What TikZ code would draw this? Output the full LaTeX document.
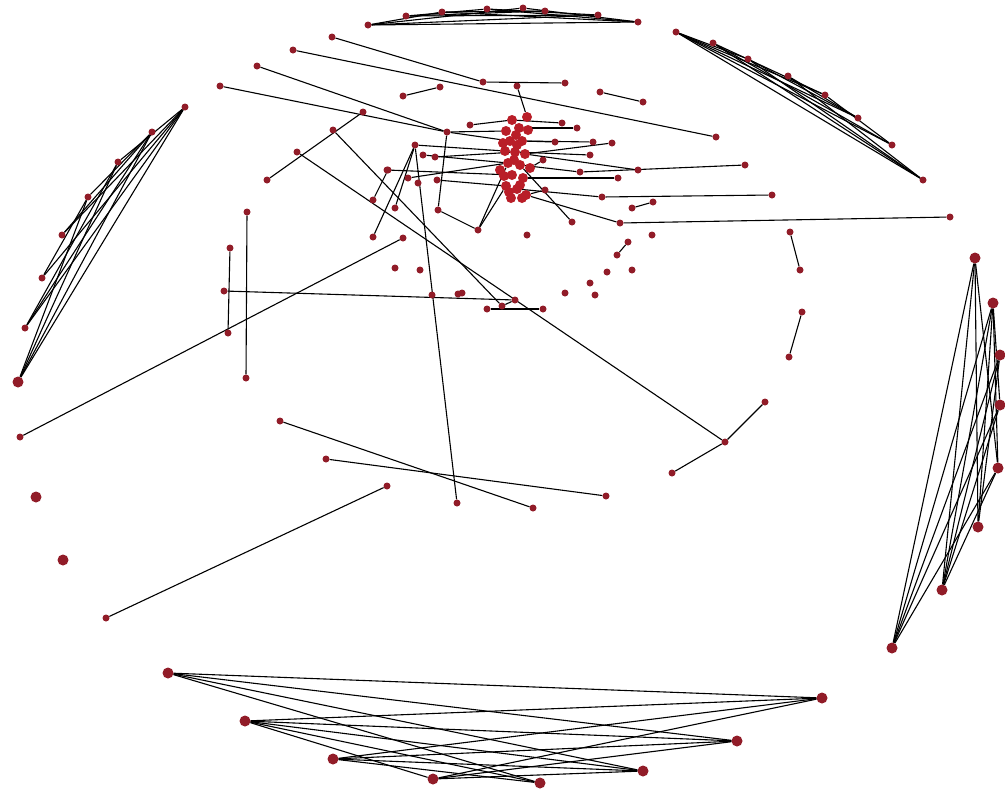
\documentclass[tikz,border=0pt]{standalone}
\definecolor{dotred}{RGB}{145,28,40}
\definecolor{corered}{RGB}{185,30,40}
\pgfdeclarelayer{bg}
\pgfsetlayers{bg,main}
\tikzset{
  dot/.style={circle,fill=dotred,draw=none,inner sep=0pt,minimum size=7pt},
  bigdot/.style={circle,fill=dotred,draw=none,inner sep=0pt,minimum size=11pt},
  coredot/.style={circle,fill=corered,draw=none,inner sep=0pt,minimum size=10pt},
  edge/.style={draw=black,line width=1.1pt}
}
\begin{document}
\begin{tikzpicture}[x=1pt,y=-1pt]
\useasboundingbox (0,0) rectangle (1005,793);
% small nodes
\foreach \n/\x/\y in {
 T1/368/25,T2/406/16,T3/442/12,T4/487/9,T5/523/8,T6/545/11,T7/598/15,T8/638/22,
 R1/676/32,R2/713/43,R3/748/59,R4/788/76,R5/825/95,R6/858/118,R7/892/145,R8/923/180,
 L1/185/107,L2/152/132,L3/118/162,L4/88/197,L5/62/235,L6/42/278,L7/25/328,
 U1/332/37,U2/293/50,U3/257/66,U4/220/86,U5/363/112,U6/403/96,U7/440/87,U8/483/82,
 U9/565/83,U10/517/86,U11/600/92,U12/643/102,U13/716/137,U14/745/165,U15/772/195,U16/950/217,
 P1/267/180,P2/297/152,P3/333/130,
 V1/247/212,V2/230/248,V3/224/291,V4/228/333,V5/246/378,
 A1/20/437,A2/403/238,A5/106/618,A6/387/486,A7/280/421,A8/533/508,A9/326/459,A10/606/496,A11/457/503,
 F1/790/232,F2/800/270,F3/802/312,F4/789/357,F5/765/402,F6/725/442,F7/672/473,
 G1/487/309,G2/502/306,G3/515/300,G4/543/309,G5/565/293,G6/458/294,G7/462/293,G8/432/295,
 G9/420/270,G10/395/268,G11/373/237,G12/373/200,G13/388/170,G14/590/283,G15/595/295,
 G16/607/272,G17/632/270,G18/617/255,G19/628/242,G20/652/235,G21/527/235,
 D1/447/132,D2/415/145,D3/423/155,D4/435/157,D5/387/170,D6/408/178,D7/418/183,D8/437/180,
 D9/395/208,D10/438/210,D11/478/230,D12/562/123,D13/555/142,D14/577/128,D15/593/142,
 D16/612/143,D17/590/155,D18/580/172,D19/618/178,D20/638/170,D21/602/197,D22/572/222,
 D23/620/223,D24/653/202,D25/632/208,D26/543/160,D27/470/125,D28/545/190}
 \node[dot] (\n) at (\x,\y) {};
% larger nodes
\foreach \n/\x/\y in {
 L8/18/382,A3/36/497,A4/63/560,
 E1/975/258,E2/993/303,E3/1000/355,E4/1000/405,E5/998/468,E6/978/527,E7/942/590,E8/892/648,
 B1/168/673,B2/245/721,B3/333/759,B4/433/779,B5/540/783,B6/643/771,B7/737/741,B8/822/698}
 \node[bigdot] (\n) at (\x,\y) {};
% dense core
\foreach \n/\x/\y in {
 C1/512/120,C2/506/131,C3/519/128,C4/510/141,C5/522/141,C6/505/151,C7/515/152,C8/525/154,
 C9/508/163,C10/520/165,C11/512/175,C12/523/178,C13/506/186,C14/517/189,C15/526/195,
 C16/511/198,C17/527/117,C18/500/170,C19/530/168,C20/514/160,C21/504/176,C22/520/185,
 C23/509/192,C24/528/130,C25/516/135,C26/503/143,C27/517/145,C28/522/198}
 \node[coredot] (\n) at (\x,\y) {};
\begin{pgfonlayer}{bg}
\fill[white] (0,0) rectangle (1005,793);
\foreach \a/\b in {
 T1/T8,T1/T7,T1/T5,T2/T7,T2/T6,T3/T8,T4/T7,T1/T3,T5/T8,T2/T4,T3/T6,T4/T8,
 R1/R8,R1/R7,R1/R6,R2/R8,R2/R7,R3/R8,R3/R6,R4/R8,R2/R5,R1/R3,R5/R7,R4/R6,R1/R5,
 L1/L8,L1/L7,L1/L6,L1/L5,L2/L8,L2/L7,L3/L8,L3/L7,L4/L8,L1/L3,L2/L5,L4/L6,L2/L4,
 E1/E8,E1/E7,E1/E6,E2/E8,E2/E7,E2/E6,E3/E8,E3/E7,E4/E8,E5/E8,E1/E5,E2/E5,E3/E6,E4/E7,E5/E7,E2/E4,
 B1/B8,B1/B7,B1/B6,B1/B5,B2/B8,B2/B7,B2/B6,B3/B8,B3/B7,B3/B6,B4/B8,B4/B7,B2/B5,B3/B5,B2/B4,B4/B6,
 U1/U8,U8/U9,U2/U13,U3/D1,U4/D1,U6/U7,U10/C17,U11/U12,P1/U5,P2/F6,P3/G2,
 D18/U14,C10/D18,D21/U15,C14/D21,D23/U16,D23/C15,
 A11/D2,V1/V5,V2/V4,V3/G3,A1/A2,A5/A6,A7/A8,A9/A10,
 F1/F2,F3/F4,F5/F6,F6/F7,G1/G4,G2/G3,
 D1/C4,D1/C2,D2/C6,D3/C9,D4/C7,D5/C11,D6/C9,D8/C13,D9/D2,D10/D1,D11/C9,D10/D11,
 D22/C10,D12/C1,D14/C3,D15/C5,D16/C8,D17/C7,D19/C12,D24/D25,D13/C5,D27/C1,
 G11/D2,G12/G13,G18/G19,D11/C13,D26/C19,D28/C15,D20/C8}
 \draw[edge] (\a) -- (\b);
\end{pgfonlayer}
\end{tikzpicture}
\end{document}
